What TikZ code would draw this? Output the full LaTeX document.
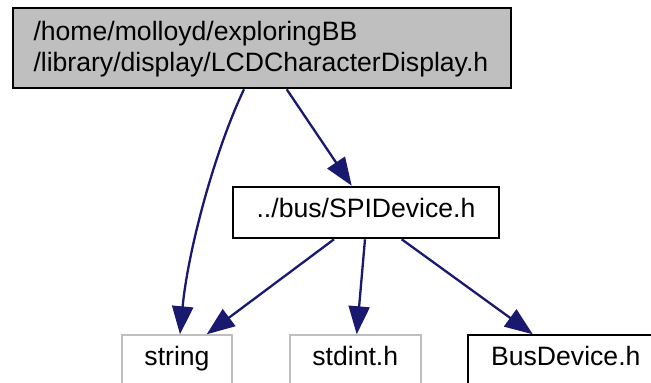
\documentclass[tikz,border=0pt]{standalone}
\usepackage{fontspec}
\setmainfont{Liberation Sans}
\usetikzlibrary{arrows.meta,calc}
\definecolor{edgeblue}{RGB}{25,25,112}
\definecolor{boxgray}{RGB}{191,191,191}
\begin{document}
\begin{tikzpicture}[x=1pt,y=-1pt,
  font=\fontsize{26.6}{31}\selectfont,
  anyfile/.style={rectangle,line width=2pt,fill=white,inner sep=0pt,
    minimum height=51.6pt,text height=30.6pt,text depth=21pt},
  filebox/.style={anyfile,draw=black},
  sysbox/.style={anyfile,draw=boxgray},
  textline/.style={inner sep=0pt,anchor=base west},
  dep/.style={draw=edgeblue,line width=2.3pt,
    -{Triangle[length=28pt,width=21pt]}}]
\useasboundingbox (0,0) rectangle (651,383);
\clip (0,0) rectangle (651,383);

% header being documented
\node[draw=black,line width=2pt,fill=boxgray,rectangle,inner sep=0pt,
  minimum width=498pt,minimum height=80pt] (top) at (262,48.3) {};
\node[textline] (topa) at (33.3,40.7) {/home/molloyd/exploringBB};
\node[textline] (topb) at (33.3,71.7) {/library/display/LCDCharacterDisplay.h};

% included headers
\node[filebox,minimum width=266.6pt] (spi) at (366,212.5) {../bus/SPIDevice.h};
\node[sysbox,minimum width=109.4pt] (string) at (177,361.1) {string};
\node[sysbox,minimum width=130.7pt] (stdint) at (355.3,361.1) {stdint.h};
\node[filebox,minimum width=195pt] (bus) at (565.8,361.1) {BusDevice.h};

% include dependencies
\draw[dep] ($(top.south)+(-18,0)$) .. controls (215,150) and (188,250) .. ($(string.north)+(3,0)$);
\draw[dep] ($(top.south)+(24.7,0)$) -- ($(spi.north)+(-14.3,0)$);
\draw[dep] ($(spi.south)+(-32,0)$) -- ($(string.north)+(29.7,0)$);
\draw[dep] ($(spi.south)+(-1,0)$) -- ($(stdint.north)+(1.4,0)$);
\draw[dep] ($(spi.south)+(35.7,0)$) -- ($(bus.north)+(-33,0)$);
\end{tikzpicture}
\end{document}
